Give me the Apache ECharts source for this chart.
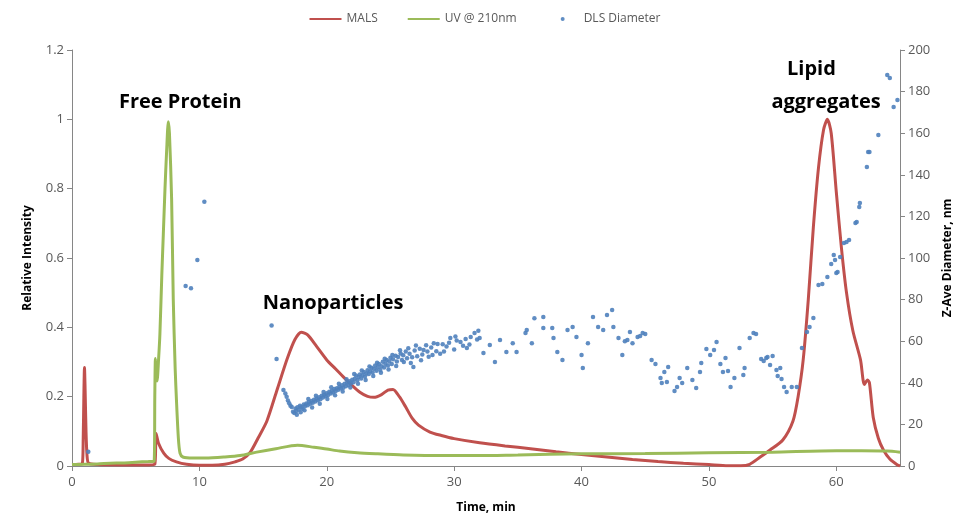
<!DOCTYPE html>
<html>
<head>
<meta charset="utf-8">
<script src="https://cdn.jsdelivr.net/npm/echarts@6/dist/echarts.min.js"></script>
<style>
  html, body { margin: 0; padding: 0; background: #fff; }
  #chart { width: 970px; height: 526px; }
</style>
</head>
<body>
<div id="chart"></div>
<script>
// Elution time (min) / relative intensity pairs for the MALS trace
const malsTrace = [
  [0, 0.004], [0.5, 0.005], [0.8, 0.006], [0.88, 0.08], [0.93, 0.2], [0.98, 0.284],
  [1.03, 0.22], [1.1, 0.1], [1.18, 0.03], [1.3, 0.008], [2, 0.004], [4, 0.003],
  [6.0, 0.003], [6.5, 0.005], [6.6, 0.094], [6.8, 0.065], [7.2, 0.037], [7.6, 0.022],
  [8.2, 0.012], [9.0, 0.005], [10, 0.002], [11, 0.002], [12, 0.005], [12.8, 0.012],
  [13.4, 0.02], [14, 0.04], [14.6, 0.08], [15.3, 0.13], [16.1, 0.22], [16.9, 0.31],
  [17.5, 0.365], [18.0, 0.386], [18.5, 0.378], [19.2, 0.345], [20.0, 0.306], [20.7, 0.28],
  [21.3, 0.257], [22.0, 0.232], [22.6, 0.213], [23.2, 0.201], [23.7, 0.198], [24.3, 0.206],
  [24.8, 0.219], [25.2, 0.221], [25.7, 0.2], [26.2, 0.17], [26.7, 0.138], [27.2, 0.118],
  [28.1, 0.098], [29, 0.088], [30, 0.079], [32, 0.067], [34, 0.058], [36, 0.05],
  [38, 0.041], [40, 0.033], [42, 0.026], [44, 0.019], [46, 0.013], [48, 0.008],
  [50, 0.004], [51.5, 0.001], [52.5, 0.001], [53.2, 0.005], [54, 0.025], [54.8, 0.046],
  [55.8, 0.075], [56.6, 0.13], [57.0, 0.2], [57.4, 0.306], [57.8, 0.48], [58.2, 0.69],
  [58.6, 0.86], [59.0, 0.97], [59.3, 1.0], [59.6, 0.96], [60.0, 0.79], [60.4, 0.63],
  [60.8, 0.5], [61.3, 0.39], [61.9, 0.306], [62.2, 0.235], [62.45, 0.248], [62.6, 0.24],
  [62.9, 0.14], [63.3, 0.08], [63.7, 0.046], [64.2, 0.02], [64.8, 0.003], [65, 0.0]
];

// UV absorbance at 210 nm, normalised
const uvTrace = [
  [0, 0.004], [1, 0.005], [2, 0.006], [3, 0.008], [4, 0.009], [5, 0.011], [6, 0.013],
  [6.45, 0.014], [6.5, 0.2], [6.55, 0.31], [6.62, 0.27], [6.68, 0.245], [6.8, 0.31],
  [6.9, 0.38], [7.05, 0.55], [7.17, 0.67], [7.3, 0.8], [7.43, 0.91], [7.56, 0.993],
  [7.65, 0.96], [7.82, 0.77], [7.95, 0.48], [8.1, 0.28], [8.2, 0.19], [8.35, 0.08],
  [8.48, 0.037], [8.7, 0.026], [9.5, 0.023], [10.5, 0.023], [12, 0.026], [13.2, 0.03],
  [14.5, 0.04], [16, 0.05], [17.7, 0.06], [19, 0.054], [20, 0.049], [21, 0.043],
  [22.4, 0.038], [24, 0.035], [26, 0.032], [28.9, 0.03], [32, 0.03], [35, 0.032],
  [40, 0.035], [45, 0.036], [50, 0.038], [55, 0.04], [60, 0.044], [62, 0.044],
  [64, 0.043], [65, 0.04]
];

// DLS Z-average diameter (nm) measured along the elution
const dlsPoints = [
  [1.28, 6.9], [8.92, 86.5], [9.34, 85.4], [9.84, 99], [10.39, 127], [15.67, 67.5], [16.06, 51.4],
  [16.6, 36.5], [16.75, 34.8], [16.85, 33.3], [16.95, 31.5], [17.05, 30.2], [17.15, 29.0],
  [17.25, 28.4], [17.35, 26.1], [17.45, 25.5], [17.55, 27.7], [17.6, 26.5], [17.7, 28.3],
  [17.8, 27.1], [17.9, 29.0], [18.0, 28.2], [18.1, 27.5], [18.2, 29.6], [18.3, 28.8],
  [18.4, 30.1], [18.5, 29.2], [18.6, 30.8], [18.7, 29.9], [18.8, 31.2], [18.9, 30.4],
  [19.0, 31.9], [19.1, 31.0], [19.2, 32.5], [19.3, 31.6], [19.4, 33.0], [19.5, 32.1],
  [19.6, 33.8], [19.7, 32.9], [19.8, 34.2], [19.9, 33.5], [20.0, 35.0], [20.1, 34.1],
  [20.2, 35.7], [20.3, 34.8], [20.4, 36.2], [20.5, 35.3], [20.6, 37.0], [20.7, 36.0],
  [20.8, 37.4], [20.9, 36.6], [21.0, 38.1], [21.1, 37.2], [21.2, 38.8], [21.3, 37.6],
  [21.4, 39.5], [21.5, 38.4], [21.6, 40.2], [21.7, 39.0], [21.8, 40.8], [21.9, 39.7],
  [22.0, 41.5], [22.1, 40.3], [22.2, 42.0], [22.3, 43.5], [22.4, 41.2], [22.5, 42.8],
  [22.6, 44.0], [22.7, 42.1], [22.8, 43.6], [22.9, 45.2], [23.0, 43.0], [23.1, 44.5],
  [23.2, 46.0], [23.3, 44.2], [23.4, 45.6], [23.5, 47.2], [23.6, 45.0], [23.7, 46.8],
  [23.8, 48.3], [23.9, 45.8], [24.0, 47.5], [24.1, 49.0], [24.2, 46.2], [24.3, 48.0],
  [24.4, 50.1], [24.5, 47.4], [24.6, 49.2], [24.7, 51.0], [24.8, 48.3], [24.9, 50.2],
  [25.0, 52.0], [25.1, 49.0], [25.2, 51.3], [25.4, 53.0], [25.5, 50.2], [25.6, 52.4],
  [25.8, 54.1], [25.9, 51.0], [26.0, 53.2], [26.2, 55.0], [26.3, 51.8], [26.5, 54.0],
  [26.6, 49.5], [26.8, 47.6], [26.9, 55.5], [27.1, 52.8], [27.3, 56.4], [27.5, 53.6],
  [27.6, 55.8], [27.8, 58.0], [28.0, 52.5], [28.2, 57.0], [28.4, 59.0], [28.6, 55.2],
  [28.9, 54.0], [29.1, 58.5], [29.4, 57.4], [29.7, 61.5], [30.0, 56.0], [30.2, 60.3],
  [30.5, 59.6], [30.7, 57.8], [31.0, 56.7], [31.3, 62.0], [31.6, 63.9], [31.8, 60.8],
  [32.0, 61.5], [32.3, 54.3], [32.8, 58.2], [33.2, 50.0], [33.6, 60.6], [34.1, 54.8],
  [34.6, 59.0], [34.9, 54.8], [35.6, 63.9], [35.7, 65.4], [36.1, 59.0], [36.3, 71.0],
  [37.0, 71.6], [37.0, 66.3], [37.7, 66.3], [37.8, 61.5], [38.1, 54.8], [38.5, 51.0],
  [38.9, 65.4], [39.3, 66.8], [39.6, 62.0], [40.0, 53.4], [40.1, 47.1], [40.5, 59.0],
  [40.9, 71.6], [41.3, 66.8], [41.7, 65.4], [42.0, 72.6], [42.4, 75.0], [42.5, 66.8],
  [42.9, 61.5], [43.2, 53.4], [43.4, 60.0], [43.6, 60.6], [43.8, 64.4], [44.0, 59.0],
  [44.4, 62.0], [44.6, 62.5], [44.8, 63.9], [45.0, 63.5], [45.5, 51.0], [45.8, 49.0],
  [46.2, 42.3], [46.3, 39.9], [46.5, 45.2], [46.7, 40.4], [46.8, 47.6], [47.3, 36.1],
  [47.5, 38.0], [47.7, 42.3], [47.9, 39.9], [48.3, 47.1], [48.7, 41.3], [49.0, 37.5],
  [49.3, 45.2], [49.4, 49.5], [49.8, 56.3], [50.1, 53.4], [50.4, 55.8], [50.6, 59.6],
  [50.9, 49.0], [51.1, 45.2], [51.3, 51.9], [51.5, 45.7], [51.7, 38.0], [52.0, 42.3],
  [52.4, 56.7], [52.7, 43.8], [52.8, 47.1], [53.2, 61.5], [53.5, 63.9], [53.7, 63.5],
  [54.1, 51.4], [54.3, 50.5], [54.5, 51.9], [54.6, 52.4], [54.8, 48.6], [55.0, 52.9],
  [55.3, 46.2], [55.4, 43.3], [55.6, 47.1], [55.7, 41.8], [55.9, 38.0], [56.1, 35.6],
  [56.5, 38.0], [56.9, 38.0], [57.3, 56.7], [57.7, 64.4], [57.9, 66.8], [58.2, 71.2],
  [58.6, 87.0], [58.9, 87.5], [59.3, 90.9], [59.6, 97.1], [59.8, 101.4], [59.9, 99.0],
  [60.0, 92.8], [60.1, 93.3], [60.3, 100.5], [60.6, 107.2], [60.8, 107.7], [61.0, 108.7],
  [61.5, 116.8], [61.6, 117.3], [61.8, 124.5], [61.85, 126.4], [62.4, 143.8], [62.5, 151.0],
  [62.6, 151.0], [63.3, 159.1], [64.0, 188.0], [64.2, 186.5], [64.5, 172.6], [64.8, 176.0],
  // repeat readings that widen the nanoparticle band
  [17.65, 24.6], [17.95, 25.9], [18.25, 26.8], [18.55, 32.2], [18.85, 28.1], [19.15, 33.8],
  [19.45, 29.9], [19.75, 35.6], [20.05, 32.2], [20.35, 37.9], [20.65, 34.0], [20.95, 39.6],
  [21.25, 35.8], [21.55, 41.7], [21.85, 37.8], [22.15, 44.2], [22.45, 39.6], [22.75, 45.9],
  [23.05, 41.4], [23.35, 47.8], [23.65, 43.3], [23.95, 49.6], [24.25, 44.8], [24.55, 51.6],
  [24.85, 46.4], [25.15, 53.4], [25.45, 48.1], [25.75, 55.7], [26.05, 50.0], [26.4, 56.6],
  [26.7, 52.3], [27.0, 57.9], [27.4, 50.9], [27.9, 55.1], [28.3, 53.4], [28.7, 58.6],
  [29.2, 55.0], [29.6, 59.3], [30.1, 62.2], [30.9, 61.0], [31.2, 58.4], [31.9, 65.0]
];

const timeTicks = [0, 10, 20, 30, 40, 50, 60];
const timeMax = 65;
const intensityTicks = [0, 0.2, 0.4, 0.6, 0.8, 1, 1.2];
const diameterTicks = [0, 20, 40, 60, 80, 100, 120, 140, 160, 180, 200];

// Peak annotations: text and anchor in data units (time, relative intensity)
const peakLabels = [
  { text: 'Free Protein', at: [8.5, 1.05] },
  { text: 'Nanoparticles', at: [20.5, 0.47] },
  { text: 'Lipid', at: [58.05, 1.143] },
  { text: 'aggregates', at: [59.2, 1.05] }
];

const FONT = '"Open Sans", "Liberation Sans", sans-serif';
const AXIS_GREY = '#868686';
const LABEL_GREY = '#595959';

// small centred dot used as the DLS legend key
const dotIcon = 'image://data:image/svg+xml;utf8,' + encodeURIComponent(
  '<svg xmlns="http://www.w3.org/2000/svg" width="32" height="10" viewBox="0 0 32 10">' +
  '<circle cx="16" cy="5" r="2" fill="#4f81bd"/></svg>'
);

const chart = echarts.init(document.getElementById('chart'));

const axisCommon = {
  axisLine: { show: true, lineStyle: { color: AXIS_GREY, width: 1 } },
  axisTick: { show: true, length: 5, lineStyle: { color: AXIS_GREY } },
  axisLabel: { color: LABEL_GREY, fontFamily: FONT, fontSize: 13 },
  splitLine: { show: false },
  nameTextStyle: { color: '#000', fontFamily: FONT, fontSize: 12, fontWeight: 'bold' }
};

chart.setOption({
  animation: false,
  backgroundColor: '#fff',
  grid: { left: 72, right: 70, top: 50, bottom: 60 },
  legend: {
    top: 8,
    left: 'center',
    itemGap: 30,
    itemWidth: 32,
    itemHeight: 10,
    textStyle: { color: LABEL_GREY, fontFamily: FONT, fontSize: 12 },
    data: [
      { name: 'MALS', icon: 'path://M0,4 L32,4 L32,6 L0,6 Z' },
      { name: 'UV @ 210nm', icon: 'path://M0,4 L32,4 L32,6 L0,6 Z' },
      { name: 'DLS Diameter', icon: dotIcon }
    ]
  },
  xAxis: Object.assign({}, axisCommon, {
    type: 'value',
    min: timeTicks[0],
    max: timeMax,
    interval: timeTicks[1] - timeTicks[0],
    name: 'Time, min',
    nameLocation: 'middle',
    nameGap: 36,
    axisLabel: Object.assign({}, axisCommon.axisLabel, {
      margin: 10,
      showMaxLabel: false,
      formatter: v => (timeTicks.indexOf(v) >= 0 ? String(v) : '')
    })
  }),
  yAxis: [
    Object.assign({}, axisCommon, {
      type: 'value',
      min: intensityTicks[0],
      max: intensityTicks[intensityTicks.length - 1],
      interval: intensityTicks[1] - intensityTicks[0],
      name: 'Relative Intensity',
      nameLocation: 'middle',
      nameGap: 38,
      axisLabel: Object.assign({}, axisCommon.axisLabel, {
        formatter: v => String(Math.round(v * 10) / 10)
      })
    }),
    Object.assign({}, axisCommon, {
      type: 'value',
      position: 'right',
      min: diameterTicks[0],
      max: diameterTicks[diameterTicks.length - 1],
      interval: diameterTicks[1] - diameterTicks[0],
      name: 'Z-Ave Diameter, nm',
      nameLocation: 'middle',
      nameGap: 42,
      nameRotate: 90
    })
  ],
  series: [
    {
      name: 'MALS',
      type: 'line',
      data: malsTrace,
      yAxisIndex: 0,
      showSymbol: false,
      smooth: 0.25,
      color: '#c0504d',
      lineStyle: { color: '#c0504d', width: 3 },
      z: 2
    },
    {
      name: 'UV @ 210nm',
      type: 'line',
      data: uvTrace,
      yAxisIndex: 0,
      showSymbol: false,
      smooth: 0.25,
      color: '#9bbb59',
      lineStyle: { color: '#9bbb59', width: 3 },
      z: 3
    },
    {
      name: 'DLS Diameter',
      type: 'scatter',
      data: dlsPoints,
      yAxisIndex: 1,
      symbol: 'circle',
      symbolSize: 4.5,
      color: '#4f81bd',
      itemStyle: { color: '#4f81bd', opacity: 0.9 },
      z: 4
    }
  ]
});

// Place the peak annotations from their data-space anchors
chart.setOption({
  graphic: peakLabels.map(lbl => {
    const p = chart.convertToPixel({ xAxisIndex: 0, yAxisIndex: 0 }, lbl.at);
    return {
      type: 'text',
      x: p[0],
      y: p[1],
      style: {
        text: lbl.text,
        fill: '#000',
        font: 'bold 20px ' + FONT,
        align: 'center',
        verticalAlign: 'middle'
      },
      z: 10
    };
  })
});
</script>
</body>
</html>
